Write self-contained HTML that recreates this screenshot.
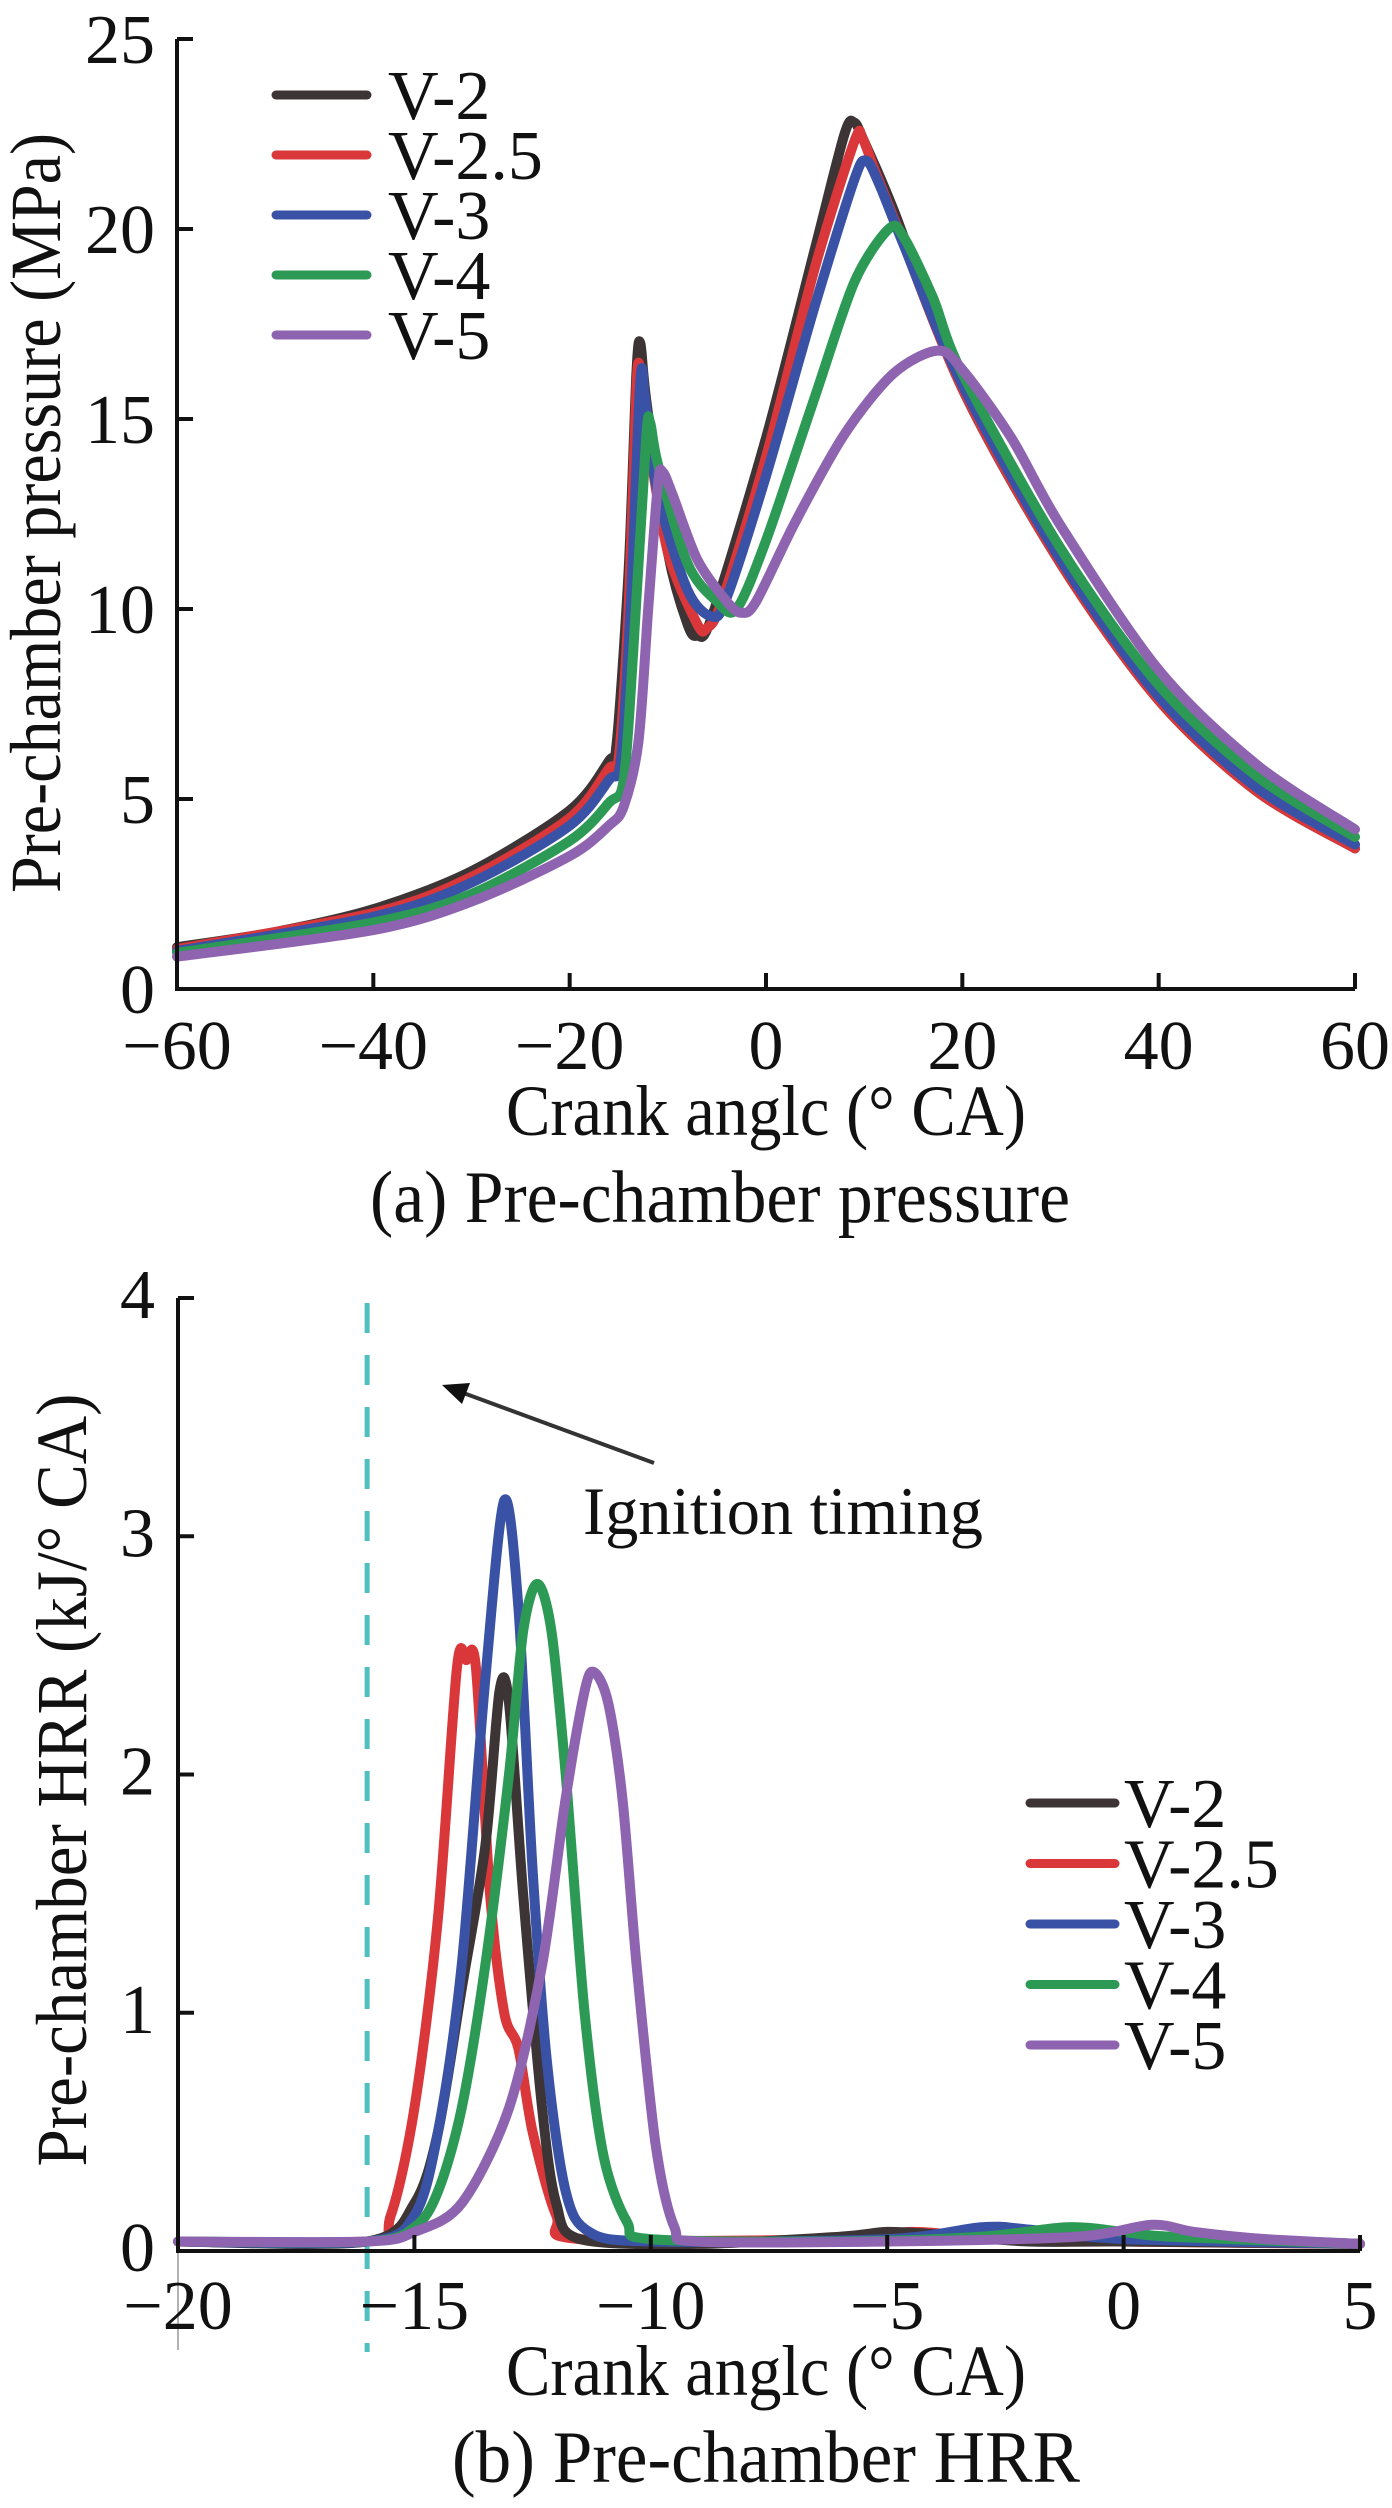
<!DOCTYPE html>
<html><head><meta charset="utf-8"><style>
html,body{margin:0;padding:0;background:#fff;}
svg{display:block;}
svg text{font-family:"Liberation Serif","Times New Roman",serif;}
</style></head><body>
<svg id="fig" width="1392" height="2508" viewBox="0 0 1392 2508" xmlns="http://www.w3.org/2000/svg" font-family="Liberation Serif, serif">
<g id="pa"></g>
<g id="pb"></g>
</svg>
<script>
// ---------- Chart (a) data ----------
const seriesNames = ["V-2","V-2.5","V-3","V-4","V-5"];
const seriesColors = ["#3d3535","#d9373a","#3a52a5","#2c9a55","#8e63b0"];
const pXTicks = [-60,-40,-20,0,20,40,60];
const pYTicks = [0,5,10,15,20,25];
const pV2x = [-60,-50,-40,-30,-20,-16,-15.2,-14,-13.2,-12.8,-12.2,-10,-8,-7,-5.5,0,5,8,9,10,13,20,30,40,50,60];
const pV2y = [1.1,1.5,2.1,3.1,4.7,6.0,6.5,11,16.2,17.0,15.5,11.5,9.6,9.3,9.8,14.5,19.5,22.5,22.8,22.3,20.5,15.8,11.2,7.6,5.2,3.7];
const pV25x = [-60,-40,-30,-20,-16,-15,-14,-13.2,-12.8,-12,-10,-7,-6,-4.5,0,5,9,9.8,11,13,20,30,40,50,60];
const pV25y = [1.05,2.0,2.95,4.5,5.8,6.1,10,15.8,16.3,14.5,11.5,9.6,9.5,10.2,14,19,22.3,22.4,21.6,20.3,15.8,11.2,7.6,5.2,3.7];
const pV3x = [-60,-40,-30,-20,-16,-14.8,-13.8,-12.8,-12.3,-11,-8,-5.5,-4,0,5,9,10.2,11.5,14,20,30,40,50,60];
const pV3y = [1.0,1.9,2.8,4.3,5.5,6.0,10,16.0,15.5,13,10.5,9.8,10.3,13.5,18,21.3,21.8,21.2,19.6,15.9,11.3,7.7,5.3,3.8];
const pV4x = [-60,-40,-30,-20,-16,-14.5,-13.5,-12.2,-11.8,-11,-8,-5,-3,0,5,9,12.5,14,17,20,30,40,50,60];
const pV4y = [0.95,1.75,2.5,3.9,4.9,5.5,9,14.5,14.9,13.8,11.2,10.2,10.0,11.8,15.6,18.6,20.0,19.8,18.2,16.2,11.6,8.0,5.6,4.0];
const pV5x = [-60,-40,-30,-20,-16,-14.5,-13,-12,-11,-10.5,-9.5,-7,-4,-2.5,-1,3,8,13,17.5,20,25,30,40,50,60];
const pV5y = [0.85,1.55,2.3,3.5,4.3,4.8,6.5,10,13.3,13.6,13.0,11.3,10.2,9.9,10.2,12.3,14.6,16.2,16.8,16.3,14.5,12.2,8.4,5.9,4.2];

// ---------- Chart (b) data ----------
const hXTicks = [-20,-15,-10,-5,0,5];
const hYTicks = [0,1,2,3,4];
const ignitionAngle = -16;
const hV2x = [-20,-16,-15,-14.5,-14,-13.5,-13.2,-13.0,-12.7,-12.3,-12,-11.5,-9,-6,-5,-4,-2,0,5];
const hV2y = [0.04,0.04,0.2,0.5,1.1,1.7,2.35,2.3,1.5,0.6,0.2,0.05,0.03,0.06,0.08,0.07,0.04,0.04,0.03];
const hV25x = [-20,-16,-15.5,-15,-14.5,-14.1,-13.9,-13.7,-13.4,-13.1,-12.8,-12.5,-12,-11.5,-6,-4.5,-3,0,5];
const hV25y = [0.04,0.04,0.15,0.6,1.4,2.45,2.48,2.45,1.5,1.0,0.85,0.5,0.15,0.05,0.05,0.08,0.06,0.04,0.03];
const hV3x = [-20,-16,-15,-14.5,-14,-13.5,-13.1,-12.8,-12.5,-12.2,-11.8,-11.3,-10,-5,-3,-2,0,5];
const hV3y = [0.04,0.04,0.15,0.5,1.2,2.4,3.15,2.7,1.6,0.8,0.25,0.08,0.04,0.05,0.1,0.09,0.05,0.03];
const hV4x = [-20,-16,-15,-14.5,-14,-13.5,-13,-12.7,-12.4,-12.1,-11.8,-11.4,-11,-10.5,-10,-6,-3,-1.2,0,1,5];
const hV4y = [0.04,0.04,0.1,0.25,0.6,1.2,2.0,2.6,2.8,2.6,2.0,1.0,0.4,0.12,0.05,0.04,0.06,0.1,0.08,0.06,0.03];
const hV5x = [-20,-16,-15,-14,-13,-12.3,-11.8,-11.4,-11.2,-10.9,-10.6,-10.3,-9.9,-9.5,-9,-5,-1,0.6,1.5,3,5];
const hV5y = [0.04,0.04,0.08,0.2,0.6,1.2,1.9,2.35,2.43,2.3,1.9,1.2,0.45,0.1,0.04,0.04,0.06,0.11,0.08,0.05,0.03];

const NS="http://www.w3.org/2000/svg";
const FONT='"Liberation Serif", "Times New Roman", serif';
function mk(parent,tag,attrs,text){const e=document.createElementNS(NS,tag);for(const k in attrs)e.setAttribute(k,attrs[k]);if(tag==='text')e.setAttribute('style','font-family:'+FONT);if(text!==undefined)e.textContent=text;parent.appendChild(e);return e;}
function pathD(xs,ys,fx,fy){
  const P=xs.map((x,i)=>[fx(x),fy(ys[i])]);
  let d="M"+P[0][0].toFixed(1)+","+P[0][1].toFixed(1);
  for(let i=0;i<P.length-1;i++){
    const p0=P[Math.max(0,i-1)],p1=P[i],p2=P[i+1],p3=P[Math.min(P.length-1,i+2)];
    const t=0.15;
    const c1=[p1[0]+(p2[0]-p0[0])*t,p1[1]+(p2[1]-p0[1])*t];
    const c2=[p2[0]-(p3[0]-p1[0])*t,p2[1]-(p3[1]-p1[1])*t];
    d+=" C"+c1[0].toFixed(1)+","+c1[1].toFixed(1)+" "+c2[0].toFixed(1)+","+c2[1].toFixed(1)+" "+p2[0].toFixed(1)+","+p2[1].toFixed(1);
  }
  return d;
}

// ---------- Draw chart (a) ----------
(function(){
  const g=document.getElementById('pa');
  const x0=177,x1=1355,y0=989,y1=39;
  const fx=v=>x0+(v-(-60))/120*(x1-x0);
  const fy=v=>y0-(v/25)*(y0-y1);
  const xs=[pV2x,pV25x,pV3x,pV4x,pV5x], ys=[pV2y,pV25y,pV3y,pV4y,pV5y];
  for(let i=0;i<5;i++){
    const p=mk(g,'path',{d:pathD(xs[i],ys[i],fx,fy),fill:'none',stroke:seriesColors[i],'stroke-width':10,'stroke-linejoin':'round','stroke-linecap':'round'});
    
    
  }
  const ax=mk(g,'path',{d:`M${x0},${y1} L${x0},${y0} L${x1},${y0}`,fill:'none',stroke:'#111','stroke-width':4});
  
  
  pXTicks.forEach(v=>{
    const t=mk(g,'line',{x1:fx(v),x2:fx(v),y1:y0,y2:y0-16,stroke:'#111','stroke-width':4});
    
    
    const l=mk(g,'text',{x:fx(v),y:y0+80,'font-size':70,'text-anchor':'middle',fill:'#111'},v<0?'\u2212'+(-v):String(v));
    
    
  });
  pYTicks.forEach(v=>{
    const t=mk(g,'line',{x1:x0,x2:x0+16,y1:fy(v),y2:fy(v),stroke:'#111','stroke-width':4});
    
    
    const l=mk(g,'text',{x:155,y:fy(v)+24,'font-size':70,'text-anchor':'end',fill:'#111'},String(v));
    
    
  });
  const xt=mk(g,'text',{x:766,y:1135,'font-size':72,'text-anchor':'middle',textLength:520,lengthAdjust:'spacingAndGlyphs',fill:'#111'},'Crank anglc (° CA)');
  
  
  const yt=mk(g,'text',{x:0,y:0,'font-size':72,'text-anchor':'middle',textLength:760,lengthAdjust:'spacingAndGlyphs',fill:'#111',transform:'translate(60,513) rotate(-90)'},'Pre-chamber pressure (MPa)');
  
  
  const cap=mk(g,'text',{x:720,y:1222,'font-size':74,'text-anchor':'middle',textLength:700,lengthAdjust:'spacingAndGlyphs',fill:'#111'},'(a) Pre-chamber pressure');
  
  
  seriesNames.forEach((n,i)=>{
    const y=95+i*60;
    const ln=mk(g,'line',{x1:276,x2:367,y1:y,y2:y,stroke:seriesColors[i],'stroke-width':9,'stroke-linecap':'round'});
    
    
    const tx=mk(g,'text',{x:388,y:y+24,'font-size':70,fill:'#111'},n);
    
    
  });
})();

// ---------- Draw chart (b) ----------
(function(){
  const g=document.getElementById('pb');
  const x0=178,x1=1360,y0=2251,y1=1298;
  const fx=v=>x0+(v-(-20))/25*(x1-x0);
  const fy=v=>y0-(v/4)*(y0-y1);
  const xs=[hV2x,hV25x,hV3x,hV4x,hV5x], ys=[hV2y,hV25y,hV3y,hV4y,hV5y];
  const ig=mk(g,'line',{x1:fx(ignitionAngle),x2:fx(ignitionAngle),y1:y1+5,y2:2352,stroke:'#4fbfbf','stroke-width':5,'stroke-dasharray':'30,22'});
  
  
  const order=[1,0,2,3,4];
  order.forEach(i=>{
    const p=mk(g,'path',{d:pathD(xs[i],ys[i],fx,fy),fill:'none',stroke:seriesColors[i],'stroke-width':10,'stroke-linejoin':'round','stroke-linecap':'round'});
    
    
  });
  const gl=mk(g,'line',{x1:x0,x2:x0,y1:y0,y2:2350,stroke:'#999','stroke-width':1.5});
  
  
  const ax=mk(g,'path',{d:`M${x0},${y1} L${x0},${y0} L${x1},${y0}`,fill:'none',stroke:'#111','stroke-width':4});
  
  
  hXTicks.forEach(v=>{
    const t=mk(g,'line',{x1:fx(v),x2:fx(v),y1:y0,y2:y0-16,stroke:'#111','stroke-width':4});
    
    
    const l=mk(g,'text',{x:fx(v),y:y0+78,'font-size':70,'text-anchor':'middle',fill:'#111'},v<0?'\u2212'+(-v):String(v));
    
    
  });
  hYTicks.forEach(v=>{
    const t=mk(g,'line',{x1:x0,x2:x0+16,y1:fy(v),y2:fy(v),stroke:'#111','stroke-width':4});
    
    
    const l=mk(g,'text',{x:155,y:fy(v)+20,'font-size':70,'text-anchor':'end',fill:'#111'},String(v));
    
    
  });
  const xt=mk(g,'text',{x:766,y:2395,'font-size':72,'text-anchor':'middle',textLength:520,lengthAdjust:'spacingAndGlyphs',fill:'#111'},'Crank anglc (° CA)');
  
  
  const yt=mk(g,'text',{x:0,y:0,'font-size':72,'text-anchor':'middle',textLength:773,lengthAdjust:'spacingAndGlyphs',fill:'#111',transform:'translate(86,1780) rotate(-90)'},'Pre-chamber HRR (kJ/° CA)');
  
  
  const cap=mk(g,'text',{x:766,y:2482,'font-size':74,'text-anchor':'middle',textLength:628,lengthAdjust:'spacingAndGlyphs',fill:'#111'},'(b) Pre-chamber HRR');
  
  
  const an=mk(g,'text',{x:583,y:1534,'font-size':68,textLength:400,lengthAdjust:'spacingAndGlyphs',fill:'#111'},'Ignition timing');
  
  
  const ar=mk(g,'line',{x1:654,y1:1463,x2:458,y2:1391,stroke:'#333','stroke-width':4});
  
  
  const ah=mk(g,'polygon',{points:'442,1385 470,1383 462,1404',fill:'#111'});
  
  
  seriesNames.forEach((n,i)=>{
    const y=1803+i*60.5;
    const ln=mk(g,'line',{x1:1030,x2:1115,y1:y,y2:y,stroke:seriesColors[i],'stroke-width':9,'stroke-linecap':'round'});
    
    
    const tx=mk(g,'text',{x:1124,y:y+24,'font-size':70,fill:'#111'},n);
    
    
  });
})();
</script>
</body></html>
